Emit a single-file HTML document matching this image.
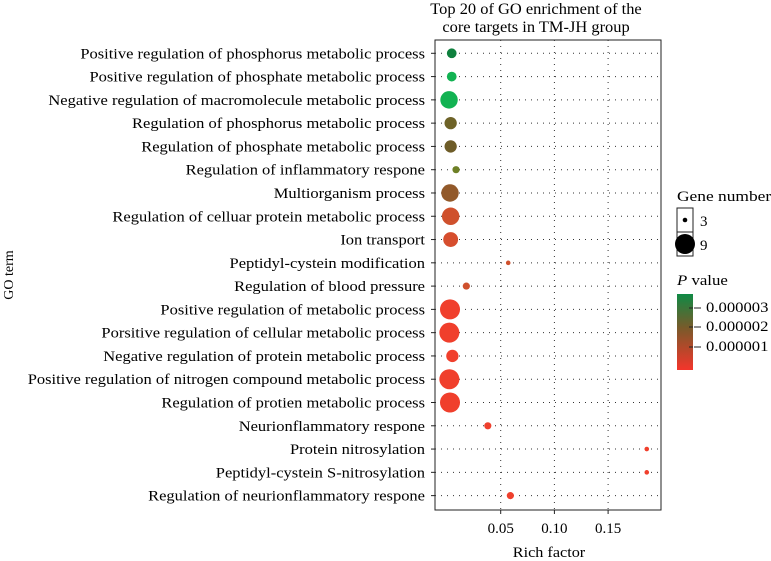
<!DOCTYPE html>
<html><head><meta charset="utf-8"><style>
body{margin:0;background:#fff;}
svg{display:block;font-family:"Liberation Serif",serif;}
</style></head><body>
<svg id="chart" width="771" height="561" viewBox="0 0 771 561">
<defs><linearGradient id="pg" x1="0" y1="0" x2="0" y2="1">
<stop offset="0" stop-color="#0f8a45"/><stop offset="0.45" stop-color="#7a5a2a"/><stop offset="1" stop-color="#f4352b"/></linearGradient></defs>
<g>
<text transform="translate(536,14) scale(1.06,1)" font-size="15.5" text-anchor="middle">Top 20 of GO enrichment of the</text>
<text transform="translate(536,32) scale(1.06,1)" font-size="15.5" text-anchor="middle">core targets in TM-JH group</text></g>
<rect x="435" y="40" width="226" height="470" fill="none" stroke="#222" stroke-width="1"/>
<g id="grid"></g><g id="ylabels"></g><g id="xticks"></g><g id="dots"></g>
<text transform="translate(549,557) scale(1.08,1)" font-size="15" text-anchor="middle">Rich factor</text>
<text transform="translate(13,275) rotate(-90)" font-size="14" text-anchor="middle">GO term</text>
<g>
<text transform="translate(677,201) scale(1.16,1)" font-size="15">Gene number</text>
<rect x="677" y="208" width="16" height="24" fill="#fff" stroke="#222"/>
<rect x="677" y="232" width="16" height="24" fill="#fff" stroke="#222"/>
<circle cx="685" cy="220" r="2.3" fill="#000"/><circle cx="685" cy="244" r="10" fill="#000"/>
<text x="700" y="226" font-size="15">3</text><text x="700" y="250" font-size="15">9</text></g>
<g>
<text transform="translate(677,285) scale(1.12,1)" font-size="15"><tspan font-style="italic">P</tspan> value</text>
<rect x="677" y="294" width="16" height="76" fill="url(#pg)"/>
<line x1="689" x2="693" y1="308" y2="308" stroke="#222"/><line x1="689" x2="693" y1="327" y2="327" stroke="#222"/><line x1="689" x2="693" y1="347" y2="347" stroke="#222"/>
<line x1="694" x2="701" y1="308" y2="308" stroke="#222"/><line x1="694" x2="701" y1="327" y2="327" stroke="#222"/><line x1="694" x2="701" y1="347" y2="347" stroke="#222"/>
<text transform="translate(706,312) scale(1.15,1)" font-size="14.5">0.000003</text><text transform="translate(706,331) scale(1.15,1)" font-size="14.5">0.000002</text><text transform="translate(706,351) scale(1.15,1)" font-size="14.5">0.000001</text></g>
</svg>
<script>
const terms=["Positive regulation of phosphorus metabolic process","Positive regulation of phosphate metabolic process","Negative regulation of macromolecule metabolic process","Regulation of phosphorus metabolic process","Regulation of phosphate metabolic process","Regulation of inflammatory respone","Multiorganism process","Regulation of celluar protein metabolic process","Ion transport","Peptidyl-cystein modification","Regulation of blood pressure","Positive regulation of metabolic process","Porsitive regulation of cellular metabolic process","Negative regulation of protein metabolic process","Positive regulation of nitrogen compound metabolic process","Regulation of protien metabolic process","Neurionflammatory respone","Protein nitrosylation","Peptidyl-cystein S-nitrosylation","Regulation of neurionflammatory respone"];
const richFactor=[0.0044,0.0044,0.0019,0.0034,0.0034,0.0084,0.0028,0.0034,0.0034,0.057,0.018,0.0028,0.0022,0.005,0.0022,0.0028,0.038,0.186,0.186,0.059];
const geneCount=[5,5,8,6,6,4,8,8,7,3,4,9,9,6,9,9,4,3,3,4];
const pValues=[3.1e-6,3.5e-6,3.5e-6,2.3e-6,2.2e-6,2.7e-6,1.9e-6,1.3e-6,1.2e-6,1.3e-6,1.3e-6,0.2e-6,0.2e-6,0.2e-6,0.2e-6,0.2e-6,0.3e-6,0.2e-6,0.2e-6,0.3e-6];
const xTicks=[0.05,0.10,0.15];
const xTickLabels=["0.05","0.10","0.15"];
const NS="http://www.w3.org/2000/svg";
const x=v=>447+v*1074;
const y=i=>53.3+i*23.28;
const r=g=>2.3+(g-3)*7.7/6;
const stops=[[0,[244,60,44]],[1e-6,[226,74,46]],[1.5e-6,[195,85,45]],[2.2e-6,[110,92,40]],[2.7e-6,[110,128,38]],[3.1e-6,[15,128,62]],[3.5e-6,[18,178,82]]];
function col(p){for(let k=1;k<stops.length;k++){if(p<=stops[k][0]){const a=stops[k-1],b=stops[k],t=(p-a[0])/(b[0]-a[0]);return "rgb("+a[1].map((c,j)=>Math.round(c+(b[1][j]-c)*t)).join(",")+")";}}return "rgb(18,178,82)";}
function mk(tag,attrs,parent){const e=document.createElementNS(NS,tag);for(const k in attrs)e.setAttribute(k,attrs[k]);document.getElementById(parent).appendChild(e);return e;}
terms.forEach((t,i)=>{
 const g=mk("line",{x1:435,x2:661,y1:y(i),y2:y(i),stroke:"#333","stroke-dasharray":"1 5","stroke-width":1},"grid");
 
 
 mk("line",{x1:431,x2:435,y1:y(i),y2:y(i),stroke:"#222"},"ylabels");
 const tx=mk("text",{transform:"translate(425,"+(y(i)+5)+") scale(1.1,1)","font-size":15,"text-anchor":"end"},"ylabels");
 tx.textContent=t;
 
 
 const c=mk("circle",{cx:x(richFactor[i]),cy:y(i),r:r(geneCount[i]),fill:col(pValues[i])},"dots");
 
 
});
xTicks.forEach((v,i)=>{
 const g=mk("line",{x1:x(v),x2:x(v),y1:40,y2:510,stroke:"#333","stroke-dasharray":"1 5"},"grid");
 
 
 mk("line",{x1:x(v),x2:x(v),y1:510,y2:514,stroke:"#222"},"xticks");
 const t=mk("text",{x:x(v),y:533,"font-size":15,"text-anchor":"middle"},"xticks");
 t.textContent=xTickLabels[i];
 
 
});
</script>
</body></html>
